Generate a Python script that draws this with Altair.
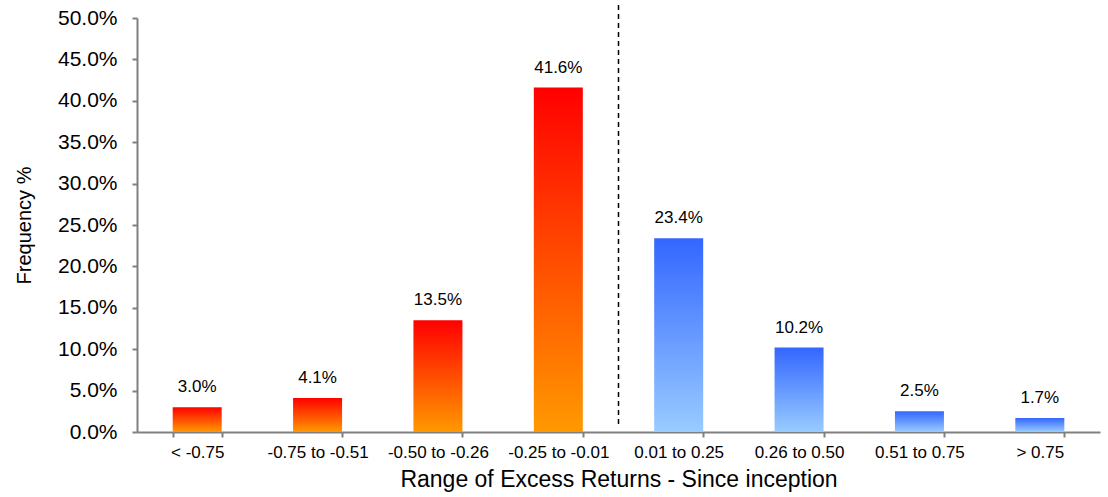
import altair as alt
import pandas as pd

categories = ["< -0.75", "-0.75 to -0.51", "-0.50 to -0.26", "-0.25 to -0.01",
              "0.01 to 0.25", "0.26 to 0.50", "0.51 to 0.75", "> 0.75"]
values = [0.030, 0.041, 0.135, 0.416, 0.234, 0.102, 0.025, 0.017]
groups = ["neg", "neg", "neg", "neg", "pos", "pos", "pos", "pos"]
y_ticks = [0, 0.05, 0.10, 0.15, 0.20, 0.25, 0.30, 0.35, 0.40, 0.45, 0.50]

df = pd.DataFrame({"cat": categories, "val": values, "grp": groups})

FONT = "Liberation Sans"
W, H = 963, 414
PI = 0.593
STEP = W / len(categories)

xenc = alt.X("cat:N", sort=categories,
             scale=alt.Scale(paddingInner=PI, paddingOuter=PI / 2),
             axis=alt.Axis(title="Range of Excess Returns - Since inception",
                           labelAngle=0, tickBand="extent", labelPadding=7,
                           labelFontSize=17, titleFontSize=23, titlePadding=8,
                           titleFontWeight="normal"))
yenc = alt.Y("val:Q", scale=alt.Scale(domain=[0, 0.5], nice=False),
             axis=alt.Axis(title="Frequency %", format=".1%", values=y_ticks,
                           grid=False, labelFontSize=21, labelPadding=15,
                           titleFontSize=20, titlePadding=23,
                           titleFontWeight="normal"))

red_grad = alt.Gradient(gradient="linear", x1=0, x2=0, y1=0, y2=1,
                        stops=[alt.GradientStop(color="#FF0000", offset=0),
                               alt.GradientStop(color="#FF9900", offset=1)])
blue_grad = alt.Gradient(gradient="linear", x1=0, x2=0, y1=0, y2=1,
                         stops=[alt.GradientStop(color="#3366FF", offset=0),
                                alt.GradientStop(color="#99CCFF", offset=1)])

base = alt.Chart(df)

bars_neg = base.transform_filter(alt.datum.grp == "neg").mark_bar(
    color=red_grad).encode(x=xenc, y=yenc)
bars_pos = base.transform_filter(alt.datum.grp == "pos").mark_bar(
    color=blue_grad).encode(x=xenc, y=yenc)

labels = base.mark_text(baseline="bottom", dy=-11, fontSize=17, font=FONT,
                        color="#000000").encode(
    x=alt.X("cat:N", sort=categories), y="val:Q",
    text=alt.Text("val:Q", format=".1%"))

divider = alt.Chart(pd.DataFrame({"cat": ["0.01 to 0.25"]})).mark_rule(
    color="#000000", strokeDash=[5, 4], strokeWidth=1.5,
    xOffset=-(PI / 2) * STEP).encode(
    x=alt.X("cat:N", sort=categories, bandPosition=0),
    y=alt.value(-13), y2=alt.value(H - 8))

chart = alt.layer(bars_neg, bars_pos, labels, divider).properties(
    width=W, height=H,
    autosize=alt.AutoSizeParams(type="none"),
    padding={"left": 137, "top": 18, "right": 8, "bottom": 65},
).configure_view(stroke=None).configure_axis(
    domainColor="#808080", domainWidth=2, tickColor="#808080", tickWidth=2,
    tickSize=5, labelColor="#000000", titleColor="#000000",
    labelFont=FONT, titleFont=FONT,
)

chart.save("out.html", embed_options={"renderer": "svg", "actions": False})
